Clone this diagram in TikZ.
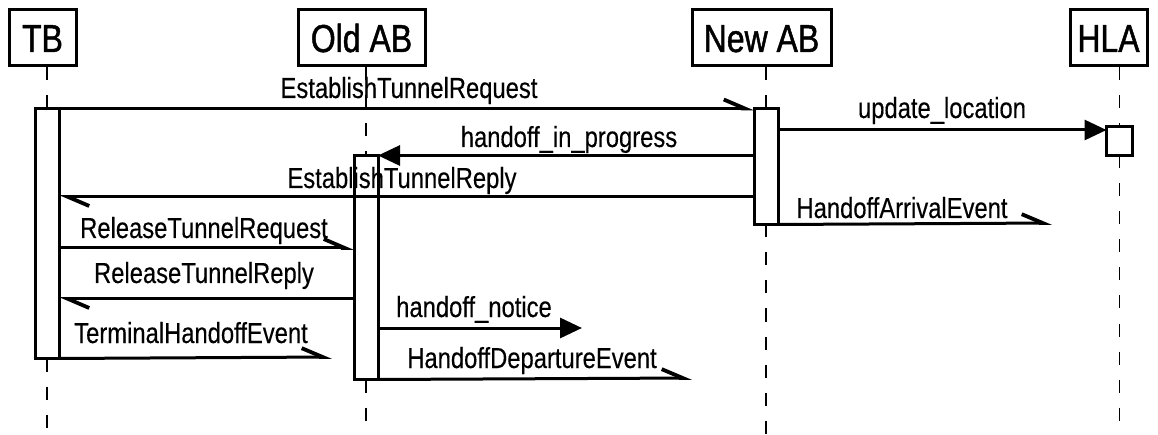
\documentclass[tikz,border=0pt]{standalone}
\usepackage{fontspec}
\setmainfont{Liberation Sans}
\newfontfamily\hdfont[FakeStretch=0.82,FakeBold=1.2]{Liberation Sans}
\newfontfamily\msgfont[FakeStretch=0.82,FakeBold=0.3]{Liberation Sans}
\usetikzlibrary{arrows.meta}

\begin{document}
\begin{tikzpicture}[x=1pt,y=-1pt,
  head/.style={draw, line width=3pt, inner sep=0pt, minimum height=56pt,
    font=\hdfont\fontsize{39}{39}\selectfont, text height=28pt, text depth=0pt},
  bar/.style={draw, line width=3pt, fill=white, inner sep=0pt, minimum width=21pt},
  life/.style={line width=1.5pt, dash pattern=on 13pt off 15pt},
  msg/.style={line width=3pt},
  sync/.style={msg, -{Triangle[length=22pt,width=20pt]}},
  async/.style={msg, -{Straight Barb[left,length=21pt,width=18pt,line width=3.8pt]}},
  lbl/.style={anchor=base, inner sep=0pt, font=\msgfont\fontsize{29}{29}\selectfont},
]
\useasboundingbox (0,0) rectangle (1158,435);

% participant headers
\node[head, minimum width=67pt]  (tb)  at (42.5,38)  {TB};
\node[head, minimum width=127pt] (old) at (361.5,38) {Old AB};
\node[head, minimum width=139pt] (new) at (761.5,38) {New AB};
\node[head, minimum width=77pt]  (hla) at (1108.5,38) {HLA};

% free ends of lost messages
\coordinate (arrEnd)    at (1052,223);
\coordinate (noticeEnd) at (582,328);
\coordinate (termEnd)   at (332,357);
\coordinate (depEnd)    at (692,378);
\coordinate (bottom)    at (0,435);

% activation bars (placed on the lifelines)
\path (47,233.5)    node[bar, minimum height=247pt] (tbbar) {};
\path (366,267.5)   node[bar, minimum height=221pt] (oldbar) {};
\path (766,166.5)   node[bar, minimum height=113pt] (newbar) {};
\path (1119.5,141)  node[bar, minimum width=23pt, minimum height=26pt] (hlabar) {};

% lifelines
\draw[life] (tb.south -| tbbar) -- (tbbar.north);
\draw[life] (tbbar.south) -- (tbbar.south |- bottom);
\draw[life] (old.south -| oldbar) -- (oldbar.north);
\draw[life] (oldbar.south) -- (oldbar.south |- bottom);
\draw[life] (new.south -| newbar) -- (newbar.north);
\draw[life] (newbar.south) -- (newbar.south |- bottom);
\draw[life] (hla.south -| hlabar) -- (hlabar.north);
\draw[life] (hlabar.south) -- (hlabar.south |- bottom);

% redraw bars over lifelines
\foreach \b in {tbbar,oldbar,newbar,hlabar}
  \draw[line width=3pt, fill=white] (\b.north west) rectangle (\b.south east);

% messages
\draw[async] (tbbar.north east) -- (newbar.north west);
\draw[sync]  (newbar.east |- 0,130) -- (hlabar.west |- 0,130);
\draw[sync]  (newbar.west |- oldbar.north) -- (oldbar.north east);
\draw[async] (newbar.west |- 0,197) -- (tbbar.east |- 0,197);
\draw[async] (newbar.south east) -- (arrEnd);
\draw[async] (tbbar.east |- 0,248) -- (oldbar.west |- 0,248);
\draw[async] (oldbar.west |- 0,299) -- (tbbar.east |- 0,299);
\draw[sync]  (oldbar.east |- 0,328) -- (noticeEnd);
\draw[async] (tbbar.south east) -- (termEnd);
\draw[async] (oldbar.south east) -- (depEnd);

% message labels
\node[lbl] (l1)  at (409,98)  {EstablishTunnelRequest};
\node[lbl] (l2)  at (942,118) {update\_location};
\node[lbl] (l3)  at (569,147) {handoff\_in\_progress};
\node[lbl] (l4)  at (402,188) {EstablishTunnelReply};
\node[lbl] (l5)  at (902,218) {HandoffArrivalEvent};
\node[lbl] (l6)  at (204,238) {ReleaseTunnelRequest};
\node[lbl] (l7)  at (204,283) {ReleaseTunnelReply};
\node[lbl] (l8)  at (474,317) {handoff\_notice};
\node[lbl] (l9)  at (191,343) {TerminalHandoffEvent};
\node[lbl] (l10) at (532,368) {HandoffDepartureEvent};
\end{tikzpicture}
\end{document}
